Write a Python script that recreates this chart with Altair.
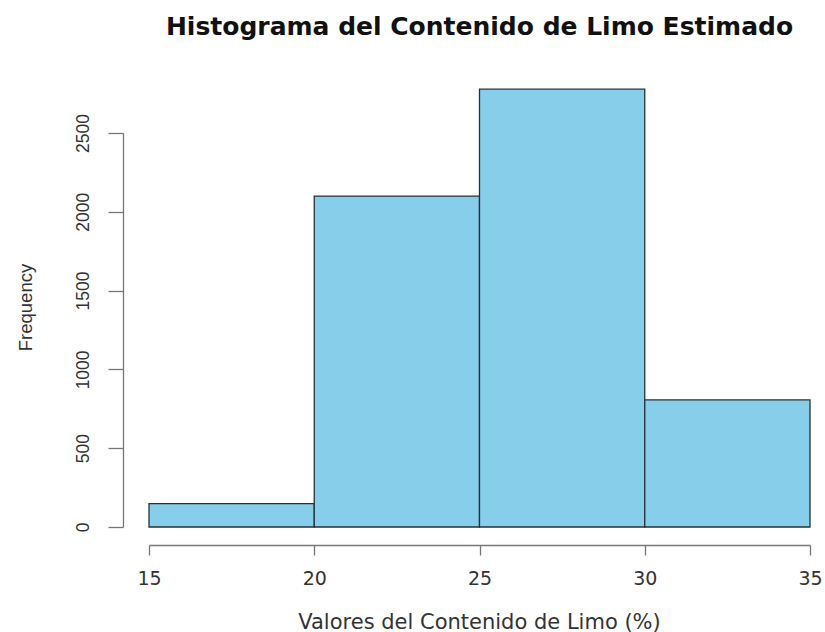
import altair as alt
import pandas as pd

# Histogram bins (silt content, %) and their counts
bin_start = [15, 20, 25, 30]
bin_end = [20, 25, 30, 35]
frequency = [148, 2100, 2778, 806]

x_ticks = [15, 20, 25, 30, 35]
y_ticks = [0, 500, 1000, 1500, 2000, 2500]

df = pd.DataFrame({"start": bin_start, "end": bin_end, "freq": frequency})

AXIS_GREY = "#777777"
TEXT_GREY = "#333333"

bars = alt.Chart(df).mark_bar(
    color="#87CEEB", stroke="#263238", strokeWidth=1.3, clip=False
).encode(
    x=alt.X(
        "start:Q",
        scale=alt.Scale(domain=[15, 35], nice=False, zero=False),
        axis=alt.Axis(
            values=x_ticks,
            format="d",
            title="Valores del Contenido de Limo (%)",
            offset=18,
            tickSize=10,
            labelPadding=29,
            labelBaseline="alphabetic",
            labelFont="DejaVu Sans",
            labelFontSize=19,
            labelColor=TEXT_GREY,
            labelFlush=False,
            labelOverlap=False,
            grid=False,
            titleFont="DejaVu Sans",
            titleFontSize=21,
            titleFontWeight="normal",
            titleColor=TEXT_GREY,
            titleBaseline="alphabetic",
            titleX=330,
            titleY=83,
        ),
    ),
    x2="end:Q",
    y=alt.Y(
        "freq:Q",
        scale=alt.Scale(domain=[0, 2500], nice=False),
        axis=alt.Axis(
            values=y_ticks,
            format="d",
            title="Frequency",
            offset=26,
            tickSize=15,
            labelPadding=20,
            labelAngle=270,
            labelAlign="center",
            labelBaseline="alphabetic",
            labelFont="Liberation Sans",
            labelFontSize=17.5,
            labelColor=TEXT_GREY,
            labelFlush=False,
            labelOverlap=False,
            grid=False,
            titleFont="Liberation Sans",
            titleFontSize=18.5,
            titleFontWeight="normal",
            titleColor=TEXT_GREY,
            titleAngle=270,
            titleAlign="center",
            titleBaseline="alphabetic",
            titleX=-92,
            titleY=174,
        ),
    ),
    y2=alt.datum(0),
)

chart = bars.properties(
    width=661,
    height=394,
    padding={"left": 149, "top": 133, "right": 15, "bottom": 105},
    autosize=alt.AutoSizeParams(type="none"),
    title=alt.TitleParams(
        text="Histograma del Contenido de Limo Estimado",
        font="DejaVu Sans",
        fontSize=25,
        fontWeight="bold",
        color="#111111",
        anchor="middle",
        frame="group",
        baseline="alphabetic",
        offset=29,
    ),
).configure_view(
    stroke=None
).configure_axis(
    domainColor=AXIS_GREY,
    tickColor=AXIS_GREY,
    domainWidth=1.3,
    tickWidth=1.3,
)

chart.save("out.html", embed_options={"renderer": "svg", "actions": False})
